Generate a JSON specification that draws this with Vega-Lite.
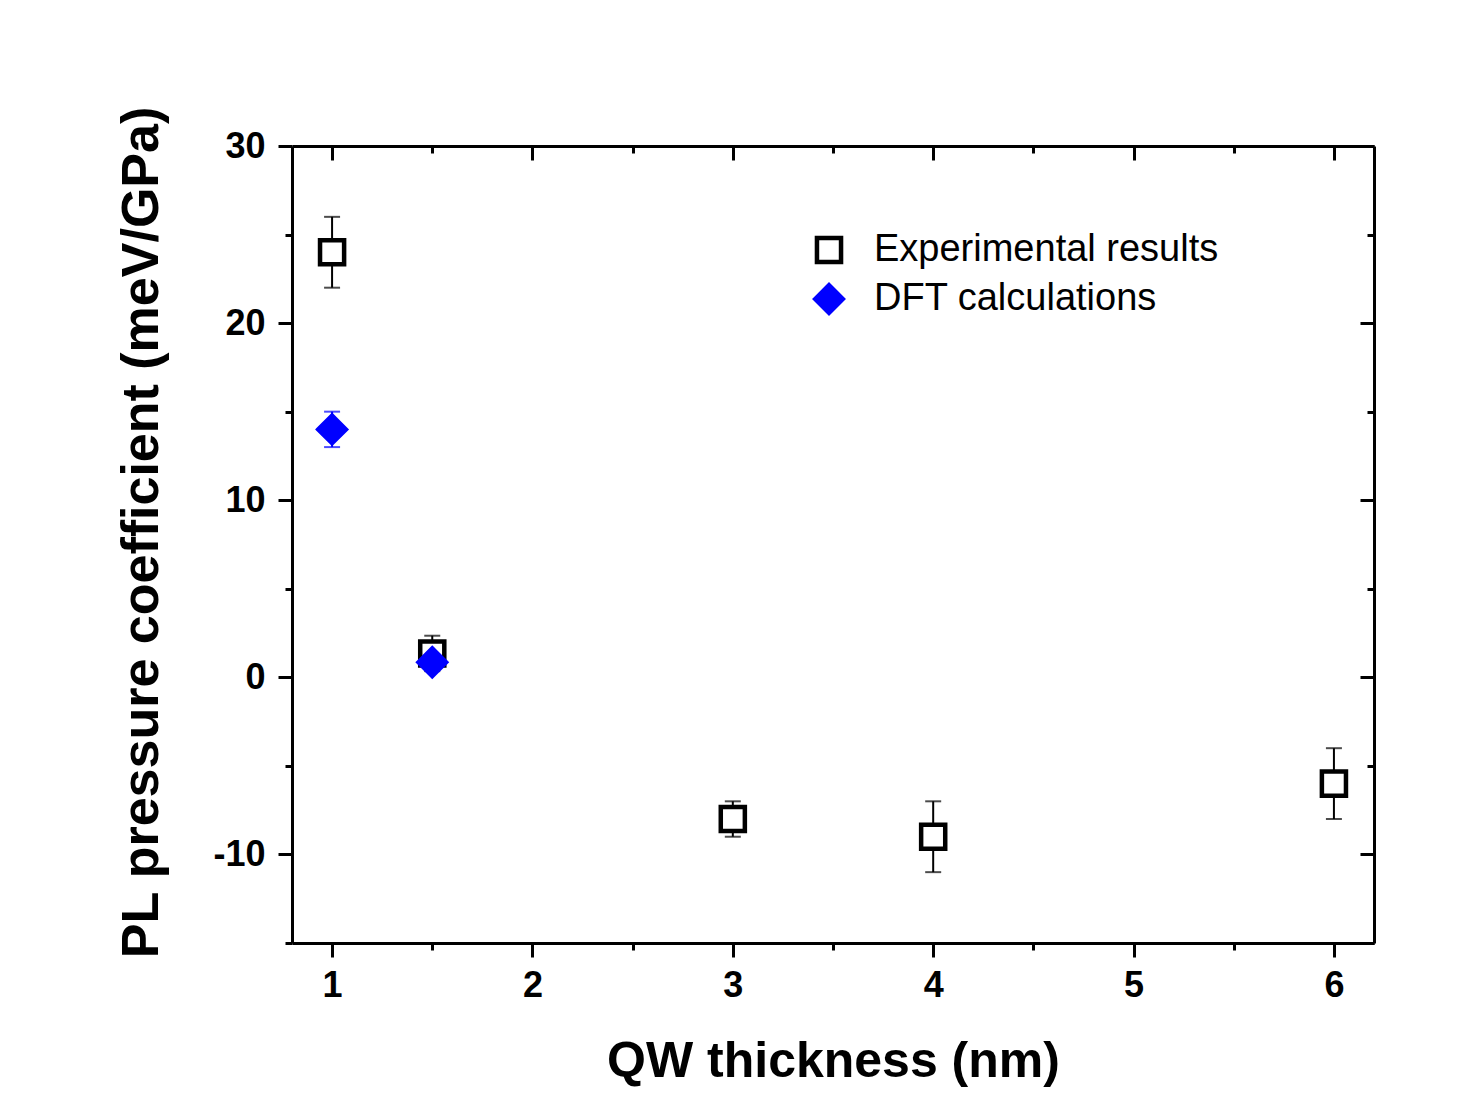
{
  "$schema": "https://vega.github.io/schema/vega-lite/v6.json",
  "width": 1082,
  "height": 797,
  "autosize": {"type": "none"},
  "padding": {"left": 292, "top": 146, "right": 87, "bottom": 155},
  "background": "white",
  "config": {
    "view": {"stroke": null},
    "font": "Liberation Sans",
    "axis": {
      "domainColor": "black", "domainWidth": 3, "tickColor": "black", "tickWidth": 3,
      "labelColor": "black", "labelFont": "Liberation Sans", "labelFontSize": 36, "labelFontWeight": "bold",
      "titleFont": "Liberation Sans", "titleFontWeight": "bold", "titleColor": "black",
      "grid": false, "labelOverlap": false, "labelBound": false, "labelFlush": false
    },
    "legend": {
      "labelFont": "Liberation Sans", "labelFontSize": 38, "labelColor": "black", "labelFontWeight": "normal", "labelLimit": 0,
      "symbolStrokeWidth": 4.5, "rowPadding": 4, "labelOffset": 26, "padding": 0
    }
  },
  "data": {"values": [
    {"x": 1, "y": 24, "lo": 22, "hi": 26, "series": "Experimental results"},
    {"x": 1.5, "y": 1.35, "lo": 0.35, "hi": 2.35, "series": "Experimental results"},
    {"x": 3, "y": -8, "lo": -9, "hi": -7, "series": "Experimental results"},
    {"x": 4, "y": -9, "lo": -11, "hi": -7, "series": "Experimental results"},
    {"x": 6, "y": -6, "lo": -8, "hi": -4, "series": "Experimental results"},
    {"x": 1, "y": 14, "lo": 13, "hi": 15, "series": "DFT calculations"},
    {"x": 1.5, "y": 0.85, "lo": null, "hi": null, "series": "DFT calculations"}
  ]},
  "layer": [
    {
      "transform": [{"filter": "datum.series === 'Experimental results'"}],
      "mark": {"type": "errorbar", "ticks": true, "size": 16, "thickness": 2, "color": "black"},
      "encoding": {
        "x": {"field": "x", "type": "quantitative", "axis": null},
        "y": {"field": "lo", "type": "quantitative", "axis": null},
        "y2": {"field": "hi"}
      }
    },
    {
      "transform": [{"filter": "datum.series === 'DFT calculations' && datum.lo != null"}],
      "mark": {"type": "errorbar", "ticks": true, "size": 16, "thickness": 2, "color": "#0000ff"},
      "encoding": {
        "x": {"field": "x", "type": "quantitative", "axis": null},
        "y": {"field": "lo", "type": "quantitative", "axis": null},
        "y2": {"field": "hi"}
      }
    },
    {
      "mark": {"type": "point", "filled": true, "strokeWidth": 4.5, "opacity": 1},
      "encoding": {
        "x": {"field": "x", "type": "quantitative", "scale": {"domain": [0.8, 6.2], "nice": false, "zero": false},
          "title": "QW thickness (nm)",
          "axis": {"orient": "bottom", "values": [1, 1.5, 2, 2.5, 3, 3.5, 4, 4.5, 5, 5.5, 6],
            "labelExpr": "datum.value % 1 === 0 ? toString(datum.value) : ''",
            "tickSize": {"condition": {"test": "datum.value % 1 === 0", "value": 14}, "value": 7},
            "labelPadding": 11, "titlePadding": 33, "titleFontSize": 50}},
        "y": {"field": "y", "type": "quantitative", "scale": {"domain": [-15, 30], "nice": false, "zero": false},
          "title": "PL pressure coefficient (meV/GPa)",
          "axis": {"orient": "left", "values": [-15, -10, -5, 0, 5, 10, 15, 20, 25, 30],
            "labelExpr": "datum.value % 10 === 0 ? toString(datum.value) : ''",
            "tickSize": {"condition": {"test": "datum.value % 10 === 0", "value": 14}, "value": 7},
            "labelPadding": 13, "titlePadding": 44, "titleFontSize": 52, "titleY": 386}},
        "shape": {"field": "series", "type": "nominal", "scale": {"domain": ["Experimental results", "DFT calculations"], "range": ["square", "diamond"]},
          "legend": {"title": null, "orient": "none", "legendX": 518, "legendY": 85}},
        "size": {"field": "series", "type": "nominal", "scale": {"domain": ["Experimental results", "DFT calculations"], "range": [580, 760]},
          "legend": {"title": null, "orient": "none", "legendX": 518, "legendY": 85}},
        "fill": {"field": "series", "type": "nominal", "scale": {"domain": ["Experimental results", "DFT calculations"], "range": ["white", "#0000ff"]},
          "legend": {"title": null, "orient": "none", "legendX": 518, "legendY": 85}},
        "stroke": {"field": "series", "type": "nominal", "scale": {"domain": ["Experimental results", "DFT calculations"], "range": ["black", "#0000ff"]},
          "legend": {"title": null, "orient": "none", "legendX": 518, "legendY": 85}}
      }
    },
    {
      "mark": {"type": "point", "opacity": 0},
      "encoding": {
        "x": {"field": "x", "type": "quantitative",
          "axis": {"orient": "top", "values": [1, 1.5, 2, 2.5, 3, 3.5, 4, 4.5, 5, 5.5, 6], "labels": false, "title": null,
            "tickSize": {"condition": {"test": "datum.value % 1 === 0", "value": -14}, "value": -7}}},
        "y": {"field": "y", "type": "quantitative",
          "axis": {"orient": "right", "values": [-15, -10, -5, 0, 5, 10, 15, 20, 25, 30], "labels": false, "title": null,
            "tickSize": {"condition": {"test": "datum.value % 10 === 0", "value": -14}, "value": -7}}}
      }
    }
  ],
  "resolve": {"axis": {"x": "independent", "y": "independent"}}
}
